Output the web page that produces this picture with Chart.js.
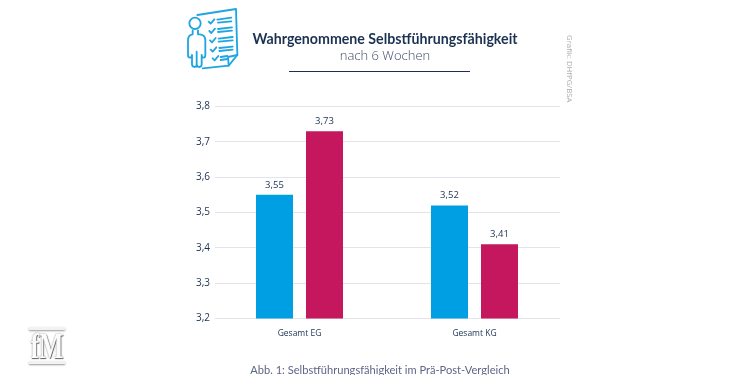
<!DOCTYPE html>
<html lang="de">
<head>
<meta charset="utf-8">
<title>Wahrgenommene Selbstführungsfähigkeit</title>
<script src="https://cdn.jsdelivr.net/npm/chart.js@4"></script>
<style>
  html, body { margin: 0; padding: 0; background: #fff; }
  body { position: relative; width: 748px; height: 390px; overflow: hidden; font-family: "Open Sans", sans-serif; }
  canvas { position: absolute; left: 0; top: 0; }
  .abs { position: absolute; white-space: nowrap; }
  .title { left: 185px; width: 400px; top: 29px; text-align: center; font-family: Lato, sans-serif; font-size: 14.2px; line-height: 20px; font-weight: 700; color: #1b3152; }
  .subtitle { left: 185px; width: 400px; top: 45px; text-align: center; font-size: 13px; line-height: 20px; font-weight: 300; color: #414b68; }
  .rule { left: 289px; top: 71px; width: 181px; height: 1px; background: #1b3152; }
  .credit { left: 564px; top: 35px; font-size: 7.8px; line-height: 11px; color: #adadb2; writing-mode: vertical-rl; }
  .footer { left: 180px; width: 400px; top: 361px; height: 14px; overflow: hidden; text-align: center; font-family: Lato, sans-serif; font-size: 11.1px; line-height: 17px; color: #5d6685; }
  .logo-bar { left: 29px; width: 36px; height: 3px; background: #f2f2f2; box-shadow: 0 1px 2px #999; }
  .logo { left: 17px; width: 60px; top: 326px; text-align: center; font-family: "Liberation Serif", serif; font-weight: 700; font-size: 36px; line-height: 40px; color: #fbfbfb; text-shadow: 1px 1px 1px #666, 0 0 2px #888; transform: scaleX(0.72); }
  .icon { left: 180px; top: 5px; }
</style>
</head>
<body>
<canvas id="myChart" width="748" height="390"></canvas>

<svg class="abs icon" width="70" height="70" viewBox="0 0 210 210" fill="none" stroke="#1fa6e2" stroke-width="5.5" stroke-linecap="round" stroke-linejoin="round">
  <path d="M52 30 L168 12 L172 150 L146 182 L68 190"/>
  <path d="M146 182 L144 156 L172 150"/>
  <path d="M86 50 L92 56 L103 43 M112 44 L154 38 M114 53 L154 49"/>
  <path d="M88 78 L94 84 L105 71 M114 72 L156 67 M114 81 L156 77"/>
  <path d="M90 106 L96 112 L107 99 M116 101 L158 96 M116 110 L158 106"/>
  <path d="M92 134 L98 140 L109 127 M118 129 L158 125 M118 138 L158 134"/>
  <path d="M98 160 L104 166 L115 153 M122 156 L142 153 M122 165 L142 162"/>
  <circle cx="45" cy="55" r="17" fill="#fff"/>
  <path fill="#fff" d="M38 76 L38 88 Q24 90 24 106 L24 150 Q24 158 30 158 Q36 158 36 150 L36 178 Q36 186 44 186 Q50 186 50 178 L50 140 L50 178 Q50 186 58 186 Q65 186 65 178 L65 150 Q65 158 71 158 Q76 158 76 150 L76 106 Q76 90 60 88 L54 88 L54 76"/>
</svg>

<div class="abs title">Wahrgenommene Selbstführungsfähigkeit</div>
<div class="abs subtitle">nach 6 Wochen</div>
<div class="abs rule"></div>
<div class="abs credit">Grafik: DHfPG/BSA</div>
<div class="abs footer">Abb. 1: Selbstführungsfähigkeit im Prä-Post-Vergleich</div>
<div class="abs logo-bar" style="top:327px"></div>
<div class="abs logo">fM</div>
<div class="abs logo-bar" style="top:361px"></div>

<script>
const categories = ["Gesamt EG", "Gesamt KG"];
const blueValues = [3.55, 3.52];
const redValues = [3.73, 3.41];
const yTicks = [3.2, 3.3, 3.4, 3.5, 3.6, 3.7, 3.8];

const navy = "#1b3152";

function comma(value, digits) {
  return value.toFixed(digits).replace(".", ",");
}

function toPoints(values) {
  return values.map((v, i) => ({ x: i, y: v }));
}

// writes the value above each bar
const valueLabels = {
  id: "valueLabels",
  afterDatasetsDraw(chart) {
    const ctx = chart.ctx;
    ctx.save();
    ctx.font = '9.5px "Open Sans"';
    ctx.fillStyle = navy;
    ctx.textAlign = "center";
    ctx.textBaseline = "middle";
    chart.data.datasets.forEach((dataset, d) => {
      chart.getDatasetMeta(d).data.forEach((bar, i) => {
        ctx.fillText(comma(dataset.data[i].y, 2), bar.x, bar.y - 10);
      });
    });
    ctx.restore();
  },
};

new Chart(document.getElementById("myChart"), {
  type: "bar",
  data: {
    datasets: [
      { label: "Blau", data: toPoints(blueValues), backgroundColor: "#009fe3" },
      { label: "Rot", data: toPoints(redValues), backgroundColor: "#c4175d" },
    ],
  },
  plugins: [valueLabels],
  options: {
    responsive: false,
    animation: false,
    categoryPercentage: 100 / 175,
    barPercentage: 0.74,
    layout: { padding: { left: 0, right: 188, top: 106.5, bottom: 0 } },
    plugins: { legend: { display: false }, tooltip: { enabled: false } },
    scales: {
      x: {
        // numeric axis so the two groups sit at x=299.5 and x=474.5
        type: "linear",
        offset: false,
        bounds: "data",
        min: -84.5 / 175,
        max: 1 + 85.5 / 175,
        grid: { display: false, offset: false },
        border: { display: false },
        afterBuildTicks(scale) {
          scale.ticks = categories.map((name, i) => ({ value: i }));
        },
        afterFit(scale) {
          scale.height = 71.5;
        },
        ticks: {
          autoSkip: false,
          maxRotation: 0,
          padding: 2,
          color: navy,
          font: { family: "Open Sans", size: 8.5 },
          callback: (value) => categories[value],
        },
      },
      y: {
        min: yTicks[0],
        max: yTicks[yTicks.length - 1],
        grid: { color: "#e3e3eb", lineWidth: 1, drawTicks: false },
        border: { display: false },
        afterFit(scale) {
          scale.width = 215;
        },
        ticks: {
          stepSize: 0.1,
          padding: 5,
          color: navy,
          font: { family: "Open Sans", size: 10 },
          callback: (value) => comma(value, 1),
        },
      },
    },
  },
});
</script>
</body>
</html>
